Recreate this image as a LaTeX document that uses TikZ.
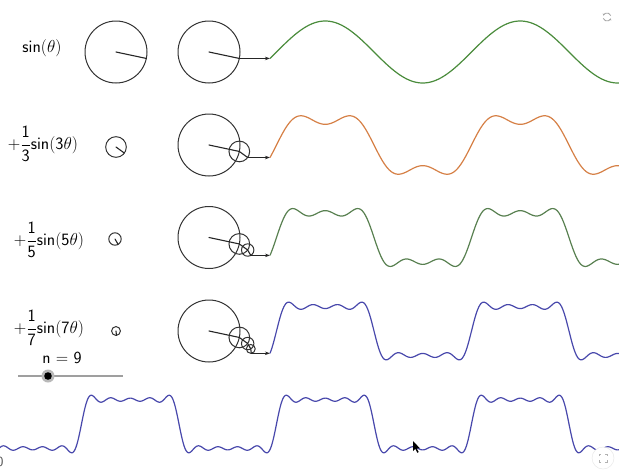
\documentclass[tikz,border=0pt]{standalone}
\usepackage{amsmath}
\usetikzlibrary{calc,arrows.meta}
\definecolor{wgreen}{RGB}{74,140,60}
\definecolor{worange}{RGB}{214,128,70}
\definecolor{wgreenb}{RGB}{88,128,80}
\definecolor{wblue}{RGB}{72,72,172}
\begin{document}
\begin{tikzpicture}[x=1pt,y=-1pt,
  circ/.style={draw=black!80, line width=1pt},
  rad/.style={draw=black!85, line width=1.1pt, line cap=round},
  wave/.style={line width=1.2pt, line join=round},
  lab/.style={font=\fontsize{16.5}{19}\selectfont, inner sep=0pt},
  conn/.style={draw=black!85, line width=1pt, -{Stealth[length=5pt,width=3.5pt]}}]
\useasboundingbox (0,0) rectangle (619,472);
\fill[white] (0,0) rectangle (619,472);
\coordinate (xs) at (270,0);

% ---- labels
\node[lab] (l1) at (42,48) {$\mathsf{sin}(\theta)$};
\node[lab] (l2) at (43,144) {$+\dfrac{\mathsf{1}}{\mathsf{3}}\mathsf{sin}(\mathsf{3}\theta)$};
\node[lab] (l3) at (49,240) {$+\dfrac{\mathsf{1}}{\mathsf{5}}\mathsf{sin}(\mathsf{5}\theta)$};
\node[lab] (l4) at (49,328) {$+\dfrac{\mathsf{1}}{\mathsf{7}}\mathsf{sin}(\mathsf{7}\theta)$};

% ---- single circles
\coordinate (k1) at (116,52);
\draw[circ] (k1) circle[radius=31];
\draw[rad] (k1) -- ($(k1)+(12:31)$);
\coordinate (k3) at (116,147);
\draw[circ] (k3) circle[radius=10.333];
\draw[rad] (k3) -- ($(k3)+(36:10.333)$);
\coordinate (k5) at (115,239);
\draw[circ] (k5) circle[radius=6.2];
\draw[rad] (k5) -- ($(k5)+(60:6.2)$);
\coordinate (k7) at (116,331);
\draw[circ] (k7) circle[radius=4.43];
\draw[rad] (k7) -- ($(k7)+(84:4.43)$);

% ---- row 1 chain
\coordinate (c1) at (209,52);
\coordinate (p11) at ($(c1)+(12:31)$);
\draw[circ] (c1) circle[radius=31];
\draw[rad] (c1) -- (p11);
\coordinate (s1) at (p11 -| xs);
\draw[conn] (p11) -- (s1);
\draw[wave, wgreen] plot[variable=\t, domain=-12:632, samples=260]
  ({270+(\t+12)*0.5416667}, {52-31*sin(\t)});

% ---- row 2 chain
\coordinate (c2) at (209,145);
\coordinate (p21) at ($(c2)+(12:31)$);
\coordinate (p23) at ($(p21)+(36:10.333)$);
\draw[circ] (c2) circle[radius=31];
\draw[circ] (p21) circle[radius=10.333];
\draw[rad] (c2) -- (p21) -- (p23);
\coordinate (s2) at (p23 -| xs);
\draw[conn] (p23) -- (s2);
\draw[wave, worange] plot[variable=\t, domain=-12:632, samples=300]
  ({270+(\t+12)*0.5416667}, {145-31*(sin(\t)+sin(3*\t)/3)});

% ---- row 3 chain
\coordinate (c3) at (209,237.5);
\coordinate (p31) at ($(c3)+(12:31)$);
\coordinate (p33) at ($(p31)+(36:10.333)$);
\coordinate (p35) at ($(p33)+(60:6.2)$);
\draw[circ] (c3) circle[radius=31];
\draw[circ] (p31) circle[radius=10.333];
\draw[circ] (p33) circle[radius=6.2];
\draw[rad] (c3) -- (p31) -- (p33) -- (p35);
\coordinate (s3) at (p35 -| xs);
\draw[conn] (p35) -- (s3);
\draw[wave, wgreenb] plot[variable=\t, domain=-12:632, samples=340]
  ({270+(\t+12)*0.5416667}, {237.5-31*(sin(\t)+sin(3*\t)/3+sin(5*\t)/5)});

% ---- row 4 chain
\coordinate (c4) at (209,331);
\coordinate (p41) at ($(c4)+(12:31)$);
\coordinate (p43) at ($(p41)+(36:10.333)$);
\coordinate (p45) at ($(p43)+(60:6.2)$);
\coordinate (p47) at ($(p45)+(84:4.43)$);
\draw[circ] (c4) circle[radius=31];
\draw[circ] (p41) circle[radius=10.333];
\draw[circ] (p43) circle[radius=6.2];
\draw[circ] (p45) circle[radius=4.43];
\draw[rad] (c4) -- (p41) -- (p43) -- (p45) -- (p47);
\coordinate (s4) at (p47 -| xs);
\draw[conn] (p47) -- (s4);
\draw[wave, wblue] plot[variable=\t, domain=-12:632, samples=380]
  ({270+(\t+12)*0.5416667}, {331-31*(sin(\t)+sin(3*\t)/3+sin(5*\t)/5+sin(7*\t)/7)});

% ---- slider
\node[font=\fontsize{17}{19}\selectfont\sffamily, inner sep=0pt] (nlab) at (62,358) {n = 9};
\coordinate (sl0) at (18,376);
\coordinate (sl1) at (123,376);
\draw[gray!75, line width=2.2pt] (sl0) -- (sl1);
\fill[gray!55] (48,376) circle[radius=6.5];
\fill[black] (48,376) circle[radius=3.8];

% ---- bottom wave
\draw[wave, wblue] plot[variable=\t, domain=-511:632, samples=700]
  ({270+(\t+12)*0.5416667}, {424-31*(sin(\t)+sin(3*\t)/3+sin(5*\t)/5+sin(7*\t)/7+sin(9*\t)/9)});

% ---- UI bits
\node[font=\fontsize{14}{16}\selectfont\sffamily, text=black!70, inner sep=0pt] (zero) at (0,462) {0};
\coordinate (rf) at (607,17);
\draw[gray!70, line width=0.8pt, -{Stealth[length=2pt,width=2.5pt]}] ($(rf)+(160:4)$) arc[start angle=160, end angle=20, radius=4];
\draw[gray!70, line width=0.8pt, -{Stealth[length=2pt,width=2.5pt]}] ($(rf)+(-20:4)$) arc[start angle=-20, end angle=-160, radius=4];
\coordinate (fs) at (603,458);
\draw[gray!20, fill=white] (fs) circle[radius=11];
\draw[gray!60, line width=0.7pt] ($(fs)+(-4,-2)$) -- ++(0,-2) -- ++(2,0)
  ($(fs)+(2,-4)$) -- ++(2,0) -- ++(0,2)
  ($(fs)+(4,2)$) -- ++(0,2) -- ++(-2,0)
  ($(fs)+(-2,4)$) -- ++(-2,0) -- ++(0,-2);
\coordinate (cur) at (413,441);
\fill[black] (cur) -- ++(0,10) -- ++(2.3,-2.2) -- ++(2,4) -- ++(1.4,-0.7) -- ++(-2,-3.8) -- ++(3.2,0) -- cycle;
\end{tikzpicture}
\end{document}
